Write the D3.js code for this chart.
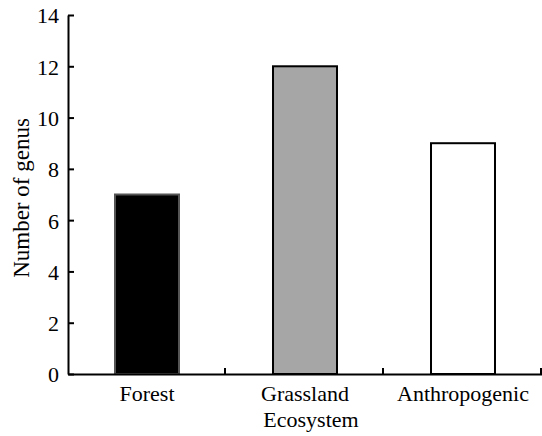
<!DOCTYPE html>
<html><head><meta charset="utf-8">
<script src="https://cdn.jsdelivr.net/npm/d3@7"></script>
<style>body{margin:0;background:#fff}svg{display:block}</style>
</head><body>
<script>
const categories = ["Forest", "Grassland", "Anthropogenic"];
const values = [7, 12, 9];
const fills = ["#000000", "#a6a6a6", "#ffffff"];
const yTicks = [0, 2, 4, 6, 8, 10, 12, 14];
const xTitle = "Ecosystem";
const yTitle = "Number of genus";

const FONT = '"Liberation Serif", "Times New Roman", serif';
const W = 542, H = 436;
const m = {left: 68, right: 0, top: 15, bottom: 62};
const svg = d3.select("body").append("svg").attr("width", W).attr("height", H)
  .style("font-family", FONT);
const x = d3.scaleBand().domain(categories).range([m.left, W - m.right]).padding(0);
const y = d3.scaleLinear().domain([0, 14]).range([H - m.bottom, m.top]);
const bw = x.bandwidth() * 0.405;

svg.selectAll("rect.bar").data(categories).enter().append("rect")
  .attr("x", d => x(d) + x.bandwidth()/2 - bw/2)
  .attr("y", (d, i) => y(values[i]))
  .attr("width", bw)
  .attr("height", (d, i) => y(0) - y(values[i]))
  .attr("fill", (d, i) => fills[i])
  .attr("stroke", (d, i) => i === 0 ? "#555" : "#000")
  .attr("stroke-width", 2);

const yAxis = svg.append("g").attr("transform", `translate(${m.left},0)`)
  .call(d3.axisLeft(y).tickValues(yTicks).tickSizeInner(-6).tickSizeOuter(0).tickPadding(9));
yAxis.attr("font-family", null).attr("font-size", null);
yAxis.selectAll("text").style("font-family", FONT).style("font-size", "22px").attr("dy", "0.36em");
yAxis.select(".domain").attr("stroke-width", 2);
yAxis.selectAll(".tick line").attr("stroke-width", 2);

const xAxis = svg.append("g").attr("transform", `translate(0,${y(0)})`)
  .call(d3.axisBottom(x).tickSize(0));
xAxis.attr("font-family", null).attr("font-size", null);
xAxis.selectAll("text").style("font-family", FONT).style("font-size", "22px").attr("y", 27).attr("dy", 0);
xAxis.select(".domain").attr("stroke-width", 2);
const bounds = categories.map(c => x(c) + x.bandwidth());
xAxis.selectAll("line.bt").data(bounds).enter().append("line").attr("class", "bt")
  .attr("x1", d => d - 1).attr("x2", d => d - 1).attr("y1", 0).attr("y2", -6)
  .attr("stroke", "#000").attr("stroke-width", 2);

svg.append("text").attr("x", 311).attr("y", 427)
  .attr("text-anchor", "middle").style("font-size", "22px").text(xTitle);
svg.append("text").attr("transform", `translate(29,198) rotate(-90)`)
  .attr("text-anchor", "middle").style("font-size", "23px").text(yTitle);
</script>
</body></html>
